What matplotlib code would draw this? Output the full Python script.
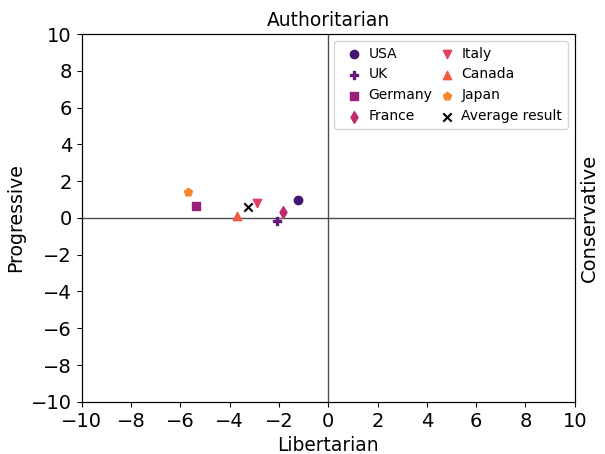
import matplotlib
matplotlib.use("Agg")
import matplotlib.pyplot as plt

countries = ["USA", "UK", "Germany", "France", "Italy", "Canada", "Japan"]
x_vals = [-1.24, -2.09, -5.38, -1.85, -2.90, -3.71, -5.70]
y_vals = [0.98, -0.16, 0.65, 0.33, 0.82, 0.11, 1.41]
markers = ["o", "P", "s", "d", "v", "^", "p"]
colors = ["#42166e", "#661b78", "#981f7a", "#c02b71", "#e2405f", "#f15b43", "#f7862f"]

fig, ax = plt.subplots(figsize=(6.05, 4.54), dpi=100)

for name, x, y, m, c in zip(countries, x_vals, y_vals, markers, colors):
    ax.scatter(x, y, marker=m, color=c, label=name, zorder=3)

# average of all countries
avg_x = sum(x_vals) / len(x_vals)
avg_y = sum(y_vals) / len(y_vals)
ax.scatter(avg_x, avg_y, marker="x", color="black", label="Average result", zorder=4)

ax.axhline(0, color="#4d4d4d", linewidth=1, zorder=1)
ax.axvline(0, color="#4d4d4d", linewidth=1, zorder=1)

ax.set_xlim(-10, 10)
ax.set_ylim(-10, 10)
ax.set_xticks(range(-10, 11, 2))
ax.set_yticks(range(-10, 11, 2))
ax.tick_params(labelsize=14)

ax.set_title("Authoritarian", fontsize=13.4)
ax.set_xlabel("Libertarian", fontsize=13.4)
ax.set_ylabel("Progressive", fontsize=13.6)
ax2 = ax.twinx()
ax2.set_yticks([])
ax2.set_ylabel("Conservative", fontsize=14)

ax.legend(ncol=2, loc="upper right", fontsize=10, handlelength=2.0,
          handletextpad=0.05, columnspacing=0.05)

fig.subplots_adjust(left=0.135, right=0.95, top=0.925, bottom=0.115)
fig.savefig("out.png", dpi=100)
